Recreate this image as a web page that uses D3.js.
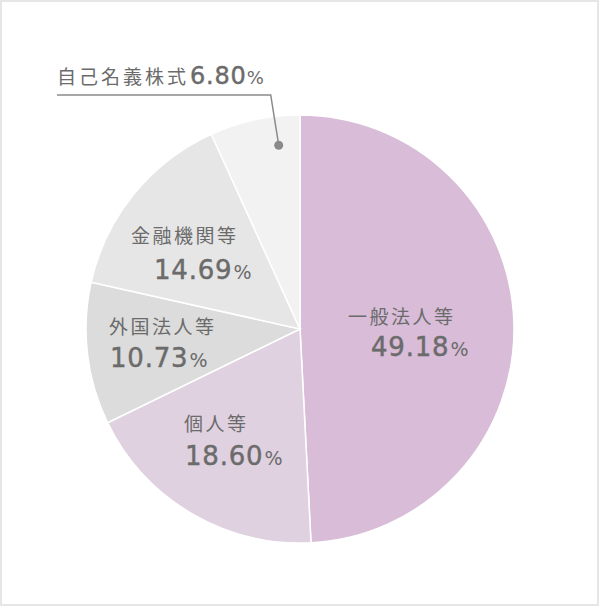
<!DOCTYPE html>
<html>
<head>
<meta charset="utf-8">
<script src="https://cdn.jsdelivr.net/npm/d3@7"></script>
<style>
  html, body { margin: 0; padding: 0; background: #fff; }
</style>
</head>
<body>
<div class="chart"></div>
<script>
// 株主構成（所有者別）
var categories = ["一般法人等", "個人等", "外国法人等", "金融機関等", "自己名義株式"];
var values = [49.18, 18.60, 10.73, 14.69, 6.80];
var colors = ["#d8bcd8", "#e0d1e0", "#dcdcdc", "#e6e6e6", "#f2f2f2"];

// ラベルの位置 (左端x, 名称のベースラインy, 数値のベースラインy, 数値の字下げ)
var labelPos = [
  [348, 324, 356, 23],
  [184, 431, 465, 1],
  [109, 334, 367, 1],
  [131, 243, 279, 23]
];

var W = 600, H = 607;
var cx = 300, cy = 329, R = 214;

var svg = d3.select(".chart")
  .append("svg")
  .attr("width", W)
  .attr("height", H);

// 枠
svg.append("rect")
  .attr("x", 1)
  .attr("y", 1)
  .attr("width", 597)
  .attr("height", 604)
  .attr("fill", "#fff")
  .attr("stroke", "#e6e6e6")
  .attr("stroke-width", 2);

var pie = d3.pie().sort(null).value(function(d) { return d; });
var arcs = pie(values);
var arc = d3.arc().innerRadius(0).outerRadius(R);

var g = svg.append("g").attr("transform", "translate(" + cx + "," + cy + ")");

g.selectAll("path")
  .data(arcs)
  .enter()
  .append("path")
  .attr("d", arc)
  .attr("fill", function(d, i) { return colors[i]; })
  .attr("stroke", "#fff")
  .attr("stroke-width", 1.5);

var jpFont = "'Noto Sans CJK JP', sans-serif";
var numFont = "'DejaVu Sans', sans-serif";
var textColor = "#6b6b6b";

for (var i = 0; i < 4; i++) {
  var p = labelPos[i];
  svg.append("text")
    .attr("x", p[0])
    .attr("y", p[1])
    .text(categories[i])
    .style("font-size", "19px")
    .style("letter-spacing", "2.5px")
    .attr("font-family", jpFont)
    .attr("fill", textColor);

  var t = svg.append("text")
    .attr("x", p[0] + p[3])
    .attr("y", p[2])
    .attr("fill", textColor)
    .attr("font-family", numFont);
  t.append("tspan")
    .text(values[i].toFixed(2))
    .style("font-size", "26px")
    .style("letter-spacing", "0.8px")
    .attr("stroke", textColor)
    .attr("stroke-width", 0.45);
  t.append("tspan")
    .text("%")
    .attr("dx", 1)
    .style("font-size", "19px");
}

// 自己名義株式の引き出し線
var last = arcs[4];
var a = last.startAngle + (last.endAngle - last.startAngle) * 0.73;
var dotR = 185;
var dx = cx + dotR * Math.sin(a);
var dy = cy - dotR * Math.cos(a);

svg.append("polyline")
  .attr("points", [[dx, dy], [dx - 8, 95], [57, 95]].map(function(q) { return q.join(","); }).join(" "))
  .attr("fill", "none")
  .attr("stroke", "#8a8a8a")
  .attr("stroke-width", 1.5);

svg.append("circle")
  .attr("cx", dx)
  .attr("cy", dy)
  .attr("r", 4.5)
  .attr("fill", "#8a8a8a");

var t5 = svg.append("text")
  .attr("x", 57)
  .attr("y", 84)
  .attr("fill", textColor);
t5.append("tspan")
  .text(categories[4])
  .attr("font-family", jpFont)
  .style("font-size", "19px")
  .style("letter-spacing", "3px");
t5.append("tspan")
  .text(values[4].toFixed(2))
  .attr("font-family", numFont)
  .attr("dx", 1)
  .style("font-size", "24px")
  .style("letter-spacing", "0.8px")
  .attr("stroke", textColor)
  .attr("stroke-width", 0.45);
t5.append("tspan")
  .text("%")
  .attr("font-family", numFont)
  .style("font-size", "18px");
</script>
</body>
</html>
